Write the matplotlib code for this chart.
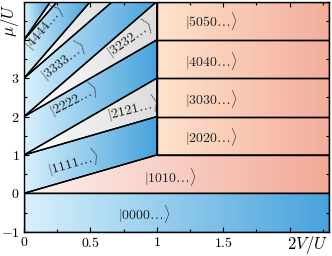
import numpy as np
import matplotlib
matplotlib.use('Agg')
import matplotlib.pyplot as plt
from matplotlib.patches import Polygon
from matplotlib.colors import LinearSegmentedColormap

plt.rcParams['mathtext.fontset'] = 'cm'
plt.rcParams['font.family'] = 'serif'
plt.rcParams['font.serif'] = ['cmr10', 'DejaVu Serif']
plt.rcParams['axes.unicode_minus'] = False

# ---------------- data ----------------
x_range = (0.0, 2.3)          # 2V/U
mu_range = (-1.0, 5.0)        # mu/U
x_crit = 1.0                  # 2V/U where |n0n0...> phases take over
# fan boundaries for 0 <= 2V/U <= 1 :  mu/U = intercept + slope * 2V/U
fan_intercept = [0, 1, 1, 2, 2, 3, 3, 4, 4, 5]
fan_slope = [1, 1, 2, 2, 3, 3, 4, 4, 5, 5]
fan_phases = ['1111', '2121', '2222', '3232', '3333', '4343', '4444', '5454', '5555']
fan_labelled = [True, True, True, True, True, False, True, False, False]
# plateau boundaries (2V/U >= 1): mu/U levels
plateau_mu = [0, 1, 2, 3, 4, 5]
plateau_phases = ['1010', '2020', '3030', '4040', '5050']
empty_phase = '0000'
x_ticks = [0, 0.5, 1, 1.5, 2]
x_ticklabels = ['0', '0.5', '1', '1.5', '']
y_ticks = [-1, 0, 1, 2, 3, 4]
y_ticklabels = ['-1', '0', '1', '2', '3', '']

# ---------------- style ----------------
blue = ('#d8f1fc', '#47a2dc')
gray = ('#ffffff', '#dcdcdc')
pink = ('#fdf1ef', '#f2a996')
peach = ('#fee3cc', '#f3ad9c')

fig = plt.figure(figsize=(3.32, 2.56), dpi=100)
ax = fig.add_axes([0.0723, 0.095, 0.9197, 0.899])
ax.set_xlim(*x_range)
ax.set_ylim(*mu_range)


def region(verts, cols, xr=None):
    verts = np.asarray(verts, float)
    x0 = max(verts[:, 0].min(), x_range[0])
    x1 = min(verts[:, 0].max(), x_range[1])
    if xr is not None:
        x0, x1 = xr
    y0 = max(verts[:, 1].min(), mu_range[0])
    y1 = min(verts[:, 1].max(), mu_range[1])
    cmap = LinearSegmentedColormap.from_list('g', list(cols))
    grad = np.linspace(0, 1, 256).reshape(1, -1)
    im = ax.imshow(grad, extent=(x0, x1, y0, y1), cmap=cmap, aspect='auto',
                   interpolation='bilinear', origin='lower', zorder=1)
    clip = Polygon(verts, closed=True, transform=ax.transData)
    im.set_clip_path(clip)
    ax.add_patch(Polygon(verts, closed=True, facecolor='none', edgecolor='black',
                         lw=1.0, zorder=3, joinstyle='miter'))


def line(i, x):
    return fan_intercept[i] + fan_slope[i] * x


# empty phase
region([(x_range[0], mu_range[0]), (x_range[1], mu_range[0]),
        (x_range[1], plateau_mu[0]), (x_range[0], plateau_mu[0])], blue)

# |1010...> : bounded by mu=0, fan line 0, and plateau level 1
region([(0, plateau_mu[0]), (x_range[1], plateau_mu[0]), (x_range[1], plateau_mu[1]),
        (x_crit, line(0, x_crit))], pink)

# other plateaus
for k in range(1, len(plateau_phases)):
    region([(x_crit, plateau_mu[k]), (x_range[1], plateau_mu[k]),
            (x_range[1], plateau_mu[k + 1]), (x_crit, plateau_mu[k + 1])], peach)

# fan regions
for i, ph in enumerate(fan_phases):
    verts = [(0, line(i, 0)), (x_crit, line(i, x_crit)),
             (x_crit, line(i + 1, x_crit)), (0, line(i + 1, 0))]
    xr_right = min(x_crit, (mu_range[1] - fan_intercept[i]) / fan_slope[i])
    cols = blue if ph[0] == ph[1] else gray
    region(verts, cols, xr=(0, xr_right))

ax.set_xlim(*x_range)
ax.set_ylim(*mu_range)

# labels
def ket(s):
    return r'$|' + s + r'\ldots\rangle$'

fs = 10
label_pos = {
    '0000': (0.91, -0.55, 0),
    '1010': (1.10, 0.43, 0),
    '1111': (0.37, 0.82, 16),
    '2121': (0.82, 2.22, 14),
    '2222': (0.37, 2.46, 27),
    '3232': (0.79, 4.06, 35),
    '3333': (0.29, 3.48, 38),
    '4444': (0.15, 4.34, 50),
    '2020': (1.41, 1.48, 0),
    '3030': (1.41, 2.47, 0),
    '4040': (1.41, 3.46, 0),
    '5050': (1.41, 4.50, 0),
}
shown = [empty_phase] + plateau_phases + [p for p, l in zip(fan_phases, fan_labelled) if l]
for ph in shown:
    x, y, r = label_pos[ph]
    ax.text(x, y, ket(ph), fontsize=fs, rotation=r, rotation_mode='anchor',
            ha='center', va='center', zorder=5, color='#222222')

# ticks
ax.set_xticks(x_ticks)
ax.set_xticklabels(['$' + t + '$' if t else '' for t in x_ticklabels], fontsize=fs)
ax.set_yticks(y_ticks)
ax.set_yticklabels(['$' + t + '$' if t else '' for t in y_ticklabels], fontsize=fs)
ax.set_xticks(np.arange(0, 2.3, 0.25), minor=True)
ax.set_yticks(np.arange(-1, 5.01, 0.5), minor=True)
ax.tick_params(which='both', direction='in', top=True, right=True, width=0.8)
ax.tick_params(which='major', length=3.5, pad=3)
ax.tick_params(which='minor', length=2)
for sp in ax.spines.values():
    sp.set_linewidth(1.0)
    sp.set_zorder(6)

ax.set_xlabel(r'$2V/U$', fontsize=12, loc='right')
ax.xaxis.set_label_coords(0.995, -0.012)
ax.set_ylabel(r'$\mu/U$', fontsize=12, loc='top')
ax.yaxis.set_label_coords(-0.01, 0.99)

fig.savefig('out.png', dpi=100)
